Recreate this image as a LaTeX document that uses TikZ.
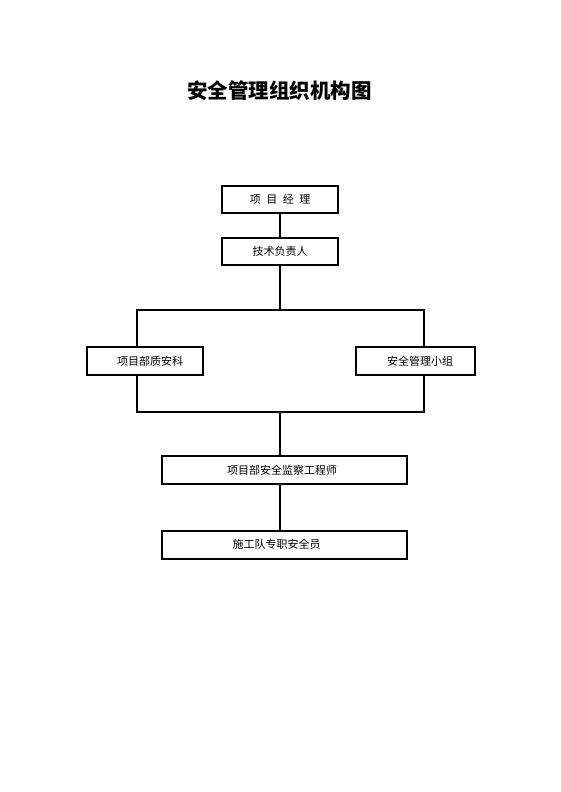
\documentclass[tikz,border=0pt]{standalone}
\usepackage{fontspec}
\setmainfont{Noto Sans CJK SC}
\usepackage{tikz}

\begin{document}
\begin{tikzpicture}[x=1pt,y=-1pt,line width=2pt,
    kuang/.style={draw,inner sep=0pt,font=\fontsize{11pt}{13pt}\selectfont}]
       \useasboundingbox(0,0)rectangle(560,792);%页面

       \node[font=\fontsize{20.5pt}{24pt}\selectfont\bfseries](biaoti)at(279.5,91){安全管理组织机构图};%标题

       \node[kuang,minimum width=116pt,minimum height=27pt](jingli)at(280,199.5)
           {项\hspace{0.5em}目\hspace{0.5em}经\hspace{0.5em}理};%项目经理
       \node[kuang,minimum width=116pt,minimum height=27pt](fuze)at(280,251)
           {技术负责人};%技术负责人
       \node[kuang,minimum width=116pt,minimum height=28pt](zhike)at(145,361)
           {\hspace*{10pt}项目部质安科};%左
       \node[kuang,minimum width=119pt,minimum height=28pt](xiaozu)at(415.5,361)
           {\hspace*{9pt}安全管理小组};%右
       \node[kuang,minimum width=245pt,minimum height=28pt](gcs)at(284.5,470)
           {项目部安全监察工程师\hspace*{5pt}};%工程师
       \node[kuang,minimum width=245pt,minimum height=28pt](aqy)at(284.5,544.5)
           {施工队专职安全员\hspace*{16pt}};%安全员

       \coordinate(ZS)at(137,310);%左上
       \coordinate(YS)at(424,310);%右上
       \coordinate(ZX)at(137,412);%左下
       \coordinate(YX)at(424,412);%右下
       \coordinate(ZJ)at(280,412);%中下

       \draw(jingli)--(fuze);
       \draw(fuze)--(fuze|-ZS);
       \draw(ZS|-zhike.north)--(ZS)--(YS)--(YS|-xiaozu.north);%上横线
       \draw(ZX|-zhike.south)--(ZX)--(YX)--(YX|-xiaozu.south);%下横线
       \draw(ZJ)--(ZJ|-gcs.north);
       \draw(ZJ|-gcs.south)--(ZJ|-aqy.north);
\end{tikzpicture}
\end{document}
